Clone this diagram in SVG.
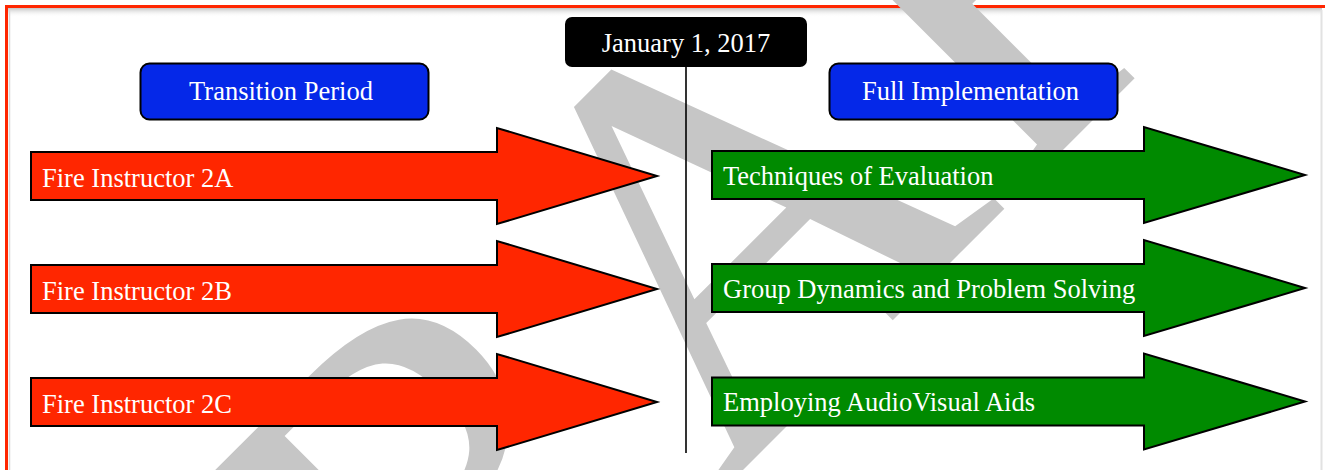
<svg xmlns="http://www.w3.org/2000/svg" width="1325" height="470" viewBox="0 0 1325 470">
  <defs>
    <style>
      .lbl { font-family: "Liberation Serif", "Times New Roman", serif; font-size: 26.5px; fill: #ffffff; }
      .hdr { fill: #0528e8; stroke: #000000; stroke-width: 2; }
      .red { fill: #ff2600; stroke: #000000; stroke-width: 2; stroke-linejoin: miter; }
      .grn { fill: #008a00; stroke: #000000; stroke-width: 2; stroke-linejoin: miter; }
      .wm { font-family: "Liberation Serif", "Times New Roman", serif; font-size: 570px; fill: #c6c6c6; }
    </style>
    <linearGradient id="topShadow" x1="0" y1="0" x2="0" y2="1">
      <stop offset="0" stop-color="#bdbdbd" stop-opacity="0.9"/>
      <stop offset="1" stop-color="#ffffff" stop-opacity="0"/>
    </linearGradient>
  </defs>

  <rect x="0" y="0" width="1325" height="470" fill="#ffffff"/>

  <!-- page frame -->
  <g id="frame">
    <rect x="8" y="8" width="1314" height="9" fill="url(#topShadow)"/>
    <line x1="9.5" y1="9" x2="9.5" y2="470" stroke="#d8d8d8" stroke-width="1.5"/>
    <line x1="1321.5" y1="10" x2="1321.5" y2="470" stroke="#e2e2e2" stroke-width="2"/>
    <rect x="6.5" y="6.5" width="1340" height="490" fill="none" stroke="#ff2600" stroke-width="3"/>
  </g>

  <!-- watermark -->
  <text class="wm" text-anchor="middle" transform="translate(817,396) rotate(-45)">DRAFT</text>

  <!-- connectors -->
  <g id="connectors">
    <line x1="686" y1="66" x2="686" y2="453" stroke="#000000" stroke-width="1.6"/>
  </g>

  <g id="date">
    <rect x="565" y="17" width="242" height="50" rx="7" ry="7" fill="#000000"/>
    <text class="lbl" x="686" y="52" text-anchor="middle">January 1, 2017</text>
  </g>

  <g id="transition-period">
    <rect class="hdr" x="140.5" y="63.5" width="288" height="56" rx="9" ry="9"/>
    <text class="lbl" x="281" y="100" text-anchor="middle">Transition Period</text>
  </g>

  <g id="full-implementation">
    <rect class="hdr" x="829.5" y="63.5" width="288" height="56" rx="9" ry="9"/>
    <text class="lbl" x="970.5" y="100" text-anchor="middle">Full Implementation</text>
  </g>

  <g id="fire-instructor-2a">
    <polygon class="red" points="31,152 497,152 497,128 657,176 497,224 497,200 31,200"/>
    <text class="lbl" x="42" y="187">Fire Instructor 2A</text>
  </g>
  <g id="fire-instructor-2b">
    <polygon class="red" points="31,265 497,265 497,241 657,289 497,337 497,313 31,313"/>
    <text class="lbl" x="42" y="300">Fire Instructor 2B</text>
  </g>
  <g id="fire-instructor-2c">
    <polygon class="red" points="31,378 497,378 497,354 657,402 497,450 497,426 31,426"/>
    <text class="lbl" x="42" y="413">Fire Instructor 2C</text>
  </g>

  <g id="techniques-of-evaluation">
    <polygon class="grn" points="712,151 1144,151 1144,127 1305,175 1144,223 1144,199 712,199"/>
    <text class="lbl" x="723" y="185">Techniques of Evaluation</text>
  </g>
  <g id="group-dynamics">
    <polygon class="grn" points="712,264 1144,264 1144,240 1305,288 1144,336 1144,312 712,312"/>
    <text class="lbl" x="723" y="298">Group Dynamics and Problem Solving</text>
  </g>
  <g id="audiovisual-aids">
    <polygon class="grn" points="712,377.5 1144,377.5 1144,353.5 1305,401.5 1144,449.5 1144,425.5 712,425.5"/>
    <text class="lbl" x="723" y="411">Employing AudioVisual Aids</text>
  </g>
</svg>
